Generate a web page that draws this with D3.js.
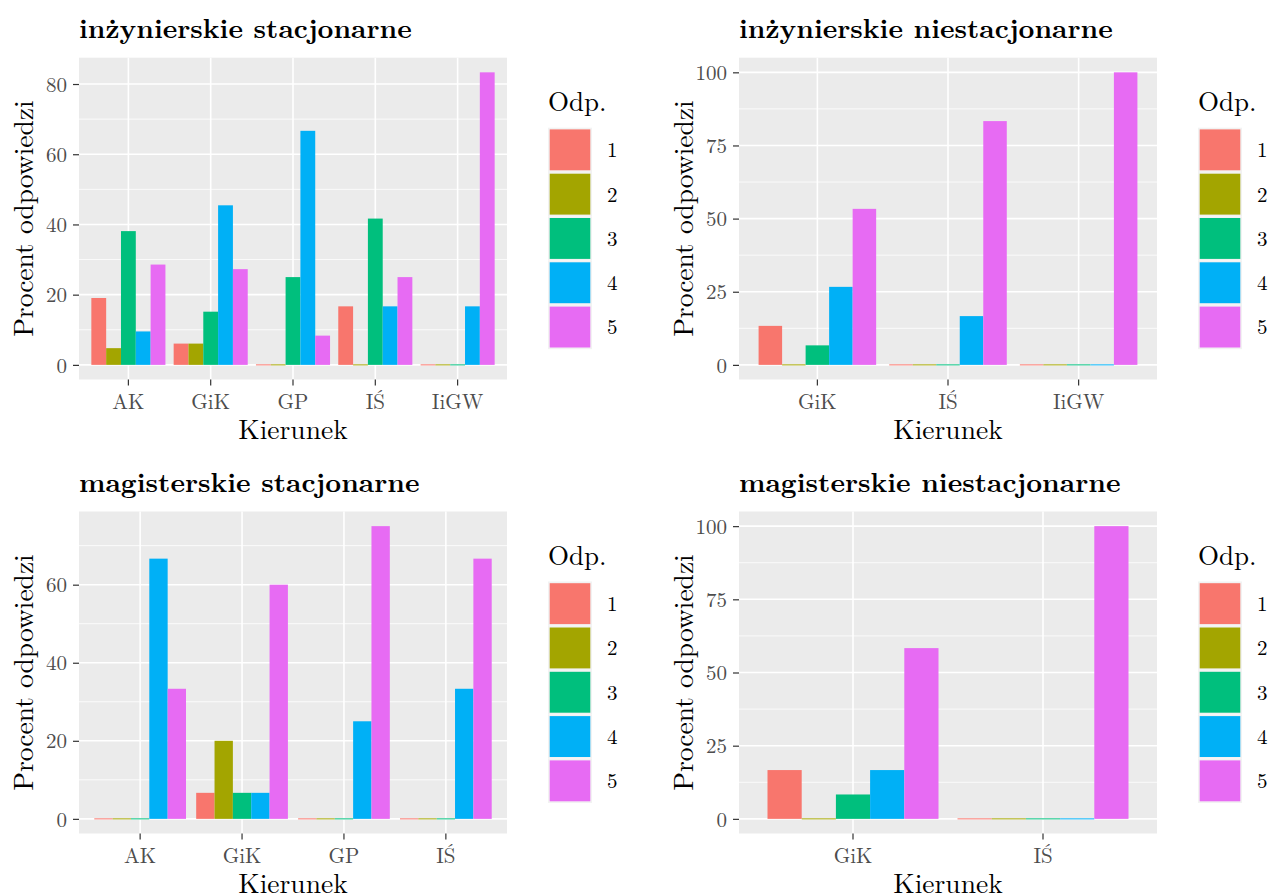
<!DOCTYPE html>
<html><head><meta charset="utf-8">
<script src="https://cdn.jsdelivr.net/npm/d3@7"></script>
<style>
html,body{margin:0;padding:0;background:#fff;}
svg{display:block;}
text{font-family:"Latin Modern Roman","Liberation Serif",serif;}
</style></head>
<body>
<svg id="chart" width="1269" height="895"></svg>
<script>
// ---------- data ----------
const odp = ["1", "2", "3", "4", "5"];
const odpColors = ["#F8766D", "#A3A500", "#00BF7D", "#00B0F6", "#E76BF3"];

const p1Title = "inżynierskie stacjonarne";
const p1Cats = ["AK", "GiK", "GP", "IŚ", "IiGW"];
const p1Values = [
  [19.05, 4.76, 38.10, 9.52, 28.57],
  [6.06, 6.06, 15.15, 45.45, 27.27],
  [0, 0, 25.00, 66.67, 8.33],
  [16.67, 0, 41.67, 16.67, 25.00],
  [0, 0, 0, 16.67, 83.33]
];
const p1Ticks = [0, 20, 40, 60, 80];

const p2Title = "inżynierskie niestacjonarne";
const p2Cats = ["GiK", "IŚ", "IiGW"];
const p2Values = [
  [13.33, 0, 6.67, 26.67, 53.33],
  [0, 0, 0, 16.67, 83.33],
  [0, 0, 0, 0, 100]
];
const p2Ticks = [0, 25, 50, 75, 100];

const p3Title = "magisterskie stacjonarne";
const p3Cats = ["AK", "GiK", "GP", "IŚ"];
const p3Values = [
  [0, 0, 0, 66.67, 33.33],
  [6.67, 20.00, 6.67, 6.67, 60.00],
  [0, 0, 0, 25.00, 75.00],
  [0, 0, 0, 33.33, 66.67]
];
const p3Ticks = [0, 20, 40, 60];

const p4Title = "magisterskie niestacjonarne";
const p4Cats = ["GiK", "IŚ"];
const p4Values = [
  [16.67, 0, 8.33, 16.67, 58.33],
  [0, 0, 0, 0, 100]
];
const p4Ticks = [0, 25, 50, 75, 100];

const xTitle = "Kierunek";
const yTitle = "Procent odpowiedzi";
const legendTitle = "Odp.";

// ---------- layout ----------
const FONT = "Latin Modern Roman";
const panels = [
  {title: p1Title, cats: p1Cats, values: p1Values, ticks: p1Ticks, x0: 79, x1: 507, y0: 57.7, y1: 379.5},
  {title: p2Title, cats: p2Cats, values: p2Values, ticks: p2Ticks, x0: 739, x1: 1157, y0: 57.7, y1: 379.5},
  {title: p3Title, cats: p3Cats, values: p3Values, ticks: p3Ticks, x0: 79, x1: 507, y0: 511.5, y1: 833.5},
  {title: p4Title, cats: p4Cats, values: p4Values, ticks: p4Ticks, x0: 739, x1: 1157, y0: 511.5, y1: 833.5}
];

const svg = d3.select("#chart");
const color = d3.scaleOrdinal().domain(odp).range(odpColors);

panels.forEach(p => {
  const g = svg.append("g");
  const vmax = d3.max(p.values.flat());
  const pad = vmax * 0.05;
  const y = d3.scaleLinear().domain([0 - pad, vmax + pad]).range([p.y1, p.y0]);
  const x = d3.scaleBand().domain(p.cats).range([p.x0, p.x1]).paddingInner(0.1).paddingOuter(0.15);
  const xs = d3.scaleBand().domain(odp).range([0, x.bandwidth()]).padding(0);

  // background
  g.append("rect").attr("x", p.x0).attr("y", p.y0).attr("width", p.x1 - p.x0).attr("height", p.y1 - p.y0).attr("fill", "#EBEBEB");

  // minor grid
  const minors = [];
  for (let i = 0; i < p.ticks.length - 1; i++) minors.push((p.ticks[i] + p.ticks[i + 1]) / 2);
  const lastMinor = p.ticks[p.ticks.length - 1] + (p.ticks[1] - p.ticks[0]) / 2;
  if (lastMinor <= vmax + pad) minors.push(lastMinor);
  g.selectAll(".minor").data(minors).enter().append("line")
    .attr("x1", p.x0).attr("x2", p.x1).attr("y1", d => y(d)).attr("y2", d => y(d))
    .attr("stroke", "#fff").attr("stroke-width", 0.8);
  // major grid
  g.selectAll(".major").data(p.ticks).enter().append("line")
    .attr("x1", p.x0).attr("x2", p.x1).attr("y1", d => y(d)).attr("y2", d => y(d))
    .attr("stroke", "#fff").attr("stroke-width", 1.6);
  g.selectAll(".vmajor").data(p.cats).enter().append("line")
    .attr("x1", d => x(d) + x.bandwidth() / 2).attr("x2", d => x(d) + x.bandwidth() / 2)
    .attr("y1", p.y0).attr("y2", p.y1)
    .attr("stroke", "#fff").attr("stroke-width", 1.6);

  // bars
  p.cats.forEach((c, ci) => {
    p.values[ci].forEach((v, si) => {
      const top = y(v), base = y(0);
      const h = Math.max(base - top, 1);
      g.append("rect")
        .attr("x", x(c) + xs(odp[si]))
        .attr("y", v === 0 ? base - 0.5 : top)
        .attr("width", xs.bandwidth())
        .attr("height", h)
        .attr("fill", color(odp[si]));
    });
  });

  // y axis
  const yAxis = d3.axisLeft(y).tickValues(p.ticks).tickSize(6).tickPadding(6);
  const ya = g.append("g").attr("transform", `translate(${p.x0},0)`).call(yAxis);
  ya.select(".domain").remove();
  ya.selectAll(".tick line").attr("stroke", "#333333").attr("stroke-width", 1.2);
  ya.selectAll(".tick text").attr("fill", "#4D4D4D").attr("font-size", 21)
    .attr("font-family", FONT).attr("dy", "0.34em");

  // x axis
  const xAxis = d3.axisBottom(x).tickSize(6).tickPadding(5);
  const xa = g.append("g").attr("transform", `translate(0,${p.y1})`).call(xAxis);
  xa.select(".domain").remove();
  xa.selectAll(".tick line").attr("stroke", "#333333").attr("stroke-width", 1.2);
  xa.selectAll(".tick text").attr("fill", "#4D4D4D").attr("font-size", 21)
    .attr("font-family", FONT).attr("dy", "0.86em");

  // axis titles
  g.append("text").attr("x", (p.x0 + p.x1) / 2).attr("y", p.y1 + 59)
    .attr("text-anchor", "middle").attr("font-size", 27.5).attr("fill", "#000").text(xTitle);
  g.append("text").attr("transform", `translate(${p.x0 - 46.5},${(p.y0 + p.y1) / 2}) rotate(-90)`)
    .attr("text-anchor", "middle").attr("font-size", 27.5).attr("fill", "#000").text(yTitle);

  // title
  g.append("text").attr("x", p.x0).attr("y", p.y0 - 20)
    .attr("font-size", 27.6).attr("font-weight", "bold").attr("fill", "#000").text(p.title);

  // legend
  const lx = p.x1 + 41, ly = p.y0 + 70, ks = 44.3;
  g.append("text").attr("x", lx).attr("y", ly - 17).attr("font-size", 27).text(legendTitle);
  odp.forEach((o, i) => {
    g.append("rect").attr("x", lx).attr("y", ly + i * ks).attr("width", 44).attr("height", ks).attr("fill", "#F2F2F2");
    g.append("rect").attr("x", lx + 1.7).attr("y", ly + i * ks + 1.7).attr("width", 44 - 3.4).attr("height", ks - 3.4).attr("fill", color(o));
    g.append("text").attr("x", lx + 59).attr("y", ly + i * ks + ks / 2).attr("dy", "0.35em")
      .attr("font-size", 21).attr("fill", "#000").text(o);
  });
});
</script>
</body></html>
